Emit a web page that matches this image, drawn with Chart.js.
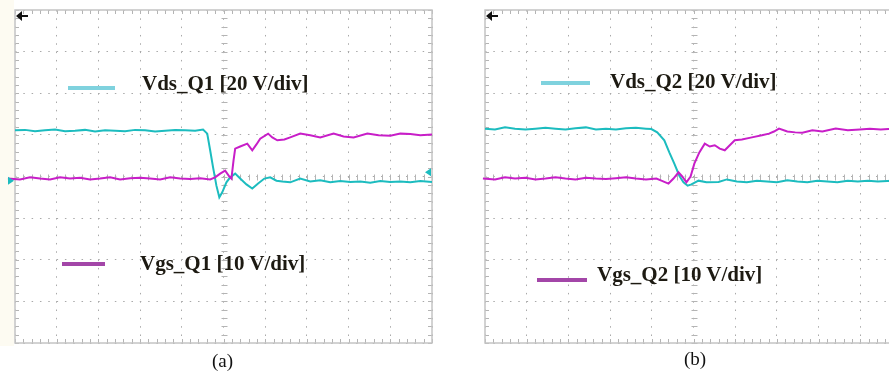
<!DOCTYPE html>
<html>
<head>
<meta charset="utf-8">
<title>Vds / Vgs switching waveforms</title>
<script src="https://cdn.jsdelivr.net/npm/chart.js@4.4.1/dist/chart.umd.min.js"></script>
<style>
  html, body { margin: 0; padding: 0; background: #fff; }
  body { width: 889px; height: 375px; overflow: hidden; position: relative;
         font-family: "Liberation Serif", "Times New Roman", serif; }
  canvas { position: absolute; top: 0; }
  #chart-a { left: 0; }
  #chart-b { left: 470px; }
  .strip { position: absolute; left: 0; top: 0; width: 14px; height: 346px; background: #fdfbf2; }
  .label { position: absolute; font-weight: bold; font-size: 21px; line-height: 21px;
           color: #1d1a12; white-space: nowrap; }
  .swatch { position: absolute; height: 4px; }
  .caption { position: absolute; font-size: 19px; line-height: 19px; color: #111; }
</style>
</head>
<body>
<div class="strip"></div>
<canvas id="chart-a" width="445" height="352"></canvas>
<canvas id="chart-b" width="450" height="352"></canvas>

<div class="swatch" style="left:68px;top:86px;width:47px;background:#7fd2de;"></div>
<div class="label" style="left:142px;top:73px;">Vds_Q1 [20 V/div]</div>
<div class="swatch" style="left:62px;top:262px;width:43px;background:#a346a8;"></div>
<div class="label" style="left:140px;top:253px;">Vgs_Q1 [10 V/div]</div>
<div class="caption" style="left:212px;top:351px;">(a)</div>

<div class="swatch" style="left:541px;top:81px;width:49px;background:#7fd2de;"></div>
<div class="label" style="left:610px;top:71px;">Vds_Q2 [20 V/div]</div>
<div class="swatch" style="left:537px;top:278px;width:50px;background:#a346a8;"></div>
<div class="label" style="left:597px;top:264px;">Vgs_Q2 [10 V/div]</div>
<div class="caption" style="left:684px;top:349px;">(b)</div>

<script>
// all values in screen divisions (time: 10 div across, voltage: 8 div, 0 = centre line)

// (a) Q1
const timeVdsQ1 = [0, 0.24, 0.48, 0.72, 0.96, 1.2, 1.44, 1.68, 1.92, 2.16, 2.4, 2.64, 2.88, 3.12, 3.36,
  3.6, 3.84, 4.08, 4.32, 4.51, 4.61, 4.68, 4.75, 4.83, 4.9, 4.97, 5.07, 5.16, 5.28, 5.4, 5.55, 5.69,
  5.83, 5.98, 6.12, 6.27, 6.41, 6.6, 6.84, 7.08, 7.32, 7.56, 7.8, 8.04, 8.28, 8.52, 8.76, 9.0, 9.24,
  9.48, 9.72, 10];
const vdsQ1 = [1.11, 1.12, 1.09, 1.11, 1.13, 1.09, 1.10, 1.12, 1.08, 1.11, 1.10, 1.09, 1.12, 1.11, 1.08,
  1.10, 1.12, 1.11, 1.10, 1.13, 1.03, 0.63, 0.22, -0.22, -0.50, -0.38, -0.14, -0.02, 0.07, -0.05, -0.19, -0.29,
  -0.17, -0.05, -0.02, -0.10, -0.12, -0.14, -0.05, -0.12, -0.09, -0.14, -0.11, -0.13, -0.12, -0.15, -0.11, -0.13, -0.12,
  -0.14, -0.11, -0.13];

const timeVgsQ1 = [-0.17, 0.12, 0.36, 0.6, 0.84, 1.08, 1.32, 1.56, 1.8, 2.04, 2.28, 2.52, 2.76, 3.0, 3.24,
  3.48, 3.72, 3.96, 4.2, 4.44, 4.68, 4.8, 4.92, 5.04, 5.14, 5.19, 5.24, 5.28, 5.4, 5.57, 5.69, 5.79,
  5.88, 6.07, 6.17, 6.29, 6.46, 6.6, 6.84, 7.08, 7.32, 7.64, 7.88, 8.12, 8.45, 8.72, 9.0, 9.24, 9.48,
  9.72, 10];
const vgsQ1 = [-0.05, -0.07, -0.02, -0.05, -0.07, -0.02, -0.05, -0.03, -0.07, -0.05, -0.02, -0.07, -0.04, -0.03, -0.05,
  -0.07, -0.02, -0.05, -0.06, -0.04, -0.07, -0.02, 0.07, 0.14, 0.0, -0.05, 0.38, 0.67, 0.72, 0.79, 0.63, 0.77,
  0.91, 1.03, 0.94, 0.87, 0.89, 0.94, 1.03, 0.99, 0.94, 1.03, 0.96, 0.94, 1.03, 0.99, 0.98, 1.03, 1.02,
  0.99, 1.01];

// (b) Q2
const timeVdsQ2 = [0, 0.24, 0.48, 0.72, 0.97, 1.21, 1.45, 1.69, 1.93, 2.17, 2.42, 2.66, 2.9, 3.14, 3.38,
  3.62, 3.86, 3.99, 4.13, 4.3, 4.42, 4.54, 4.66, 4.76, 4.86, 4.95, 5.12, 5.31, 5.6, 5.8, 6.04, 6.28,
  6.52, 6.76, 7.0, 7.25, 7.49, 7.73, 7.97, 8.21, 8.45, 8.7, 8.94, 9.18, 9.42, 9.76, 10];
const vdsQ2 = [1.15, 1.13, 1.18, 1.15, 1.13, 1.15, 1.17, 1.15, 1.13, 1.16, 1.18, 1.13, 1.15, 1.13, 1.16,
  1.17, 1.15, 1.14, 1.06, 0.87, 0.58, 0.31, 0.02, -0.14, -0.22, -0.19, -0.10, -0.14, -0.13, -0.07, -0.12, -0.14,
  -0.10, -0.12, -0.14, -0.09, -0.12, -0.14, -0.10, -0.12, -0.14, -0.10, -0.12, -0.10, -0.12, -0.10, -0.11];

const timeVgsQ2 = [-0.05, 0.24, 0.48, 0.72, 0.97, 1.21, 1.45, 1.69, 1.93, 2.17, 2.42, 2.66, 2.9, 3.14, 3.38,
  3.62, 3.86, 4.11, 4.23, 4.4, 4.52, 4.64, 4.73, 4.83, 4.93, 5.02, 5.14, 5.27, 5.39, 5.51, 5.63, 5.75,
  5.87, 5.99, 6.16, 6.4, 6.64, 6.81, 6.93, 7.05, 7.25, 7.44, 7.61, 7.85, 8.09, 8.41, 8.7, 8.99, 9.23,
  9.49, 9.76, 10];
const vgsQ2 = [-0.05, -0.07, -0.02, -0.05, -0.03, -0.07, -0.05, -0.02, -0.05, -0.07, -0.03, -0.05, -0.06, -0.04, -0.02,
  -0.05, -0.07, -0.05, -0.10, -0.17, -0.05, 0.10, 0.0, -0.14, 0.0, 0.31, 0.58, 0.79, 0.72, 0.75, 0.67, 0.63,
  0.75, 0.87, 0.89, 0.94, 0.99, 1.03, 1.08, 1.15, 1.08, 1.06, 1.05, 1.11, 1.08, 1.15, 1.11, 1.13, 1.15,
  1.13, 1.15, 1.14];

const CYAN = '#1cbcbf';
const MAGENTA = '#c81ec8';

function toPoints(times, values) {
    return times.map((t, i) => ({ x: t, y: values[i] }));
}

// frame, minor ticks and centre cross of the scope graticule
const scopeGraticule = {
    id: 'scopeGraticule',
    beforeDatasetsDraw(chart) {
        const ctx = chart.ctx;
        const a = chart.chartArea;
        const x = chart.scales.x;
        const y = chart.scales.y;
        const cx = Math.round(x.getPixelForValue(5)) + 0.5;
        const cy = Math.round(y.getPixelForValue(0)) + 0.5;
        ctx.save();
        ctx.strokeStyle = '#b4b4b4';
        ctx.lineWidth = 1;
        ctx.beginPath();
        for (let i = 0; i <= 50; i++) {
            const px = Math.round(x.getPixelForValue(i * 0.2)) + 0.5;
            ctx.moveTo(px, a.top); ctx.lineTo(px, a.top + 4);
            ctx.moveTo(px, a.bottom); ctx.lineTo(px, a.bottom - 4);
            ctx.moveTo(px, cy - 3); ctx.lineTo(px, cy + 3);
        }
        for (let i = 0; i <= 40; i++) {
            const py = Math.round(y.getPixelForValue(-4 + i * 0.2)) + 0.5;
            ctx.moveTo(a.left, py); ctx.lineTo(a.left + 4, py);
            ctx.moveTo(a.right, py); ctx.lineTo(a.right - 4, py);
            ctx.moveTo(cx - 3, py); ctx.lineTo(cx + 3, py);
        }
        ctx.stroke();
        ctx.strokeStyle = '#c4c4c4';
        ctx.lineWidth = 1.5;
        ctx.strokeRect(a.left, a.top, a.right - a.left, a.bottom - a.top);
        ctx.restore();
    },
    afterDatasetsDraw(chart, args, opts) {
        const ctx = chart.ctx;
        const a = chart.chartArea;
        const y = chart.scales.y;
        ctx.save();
        // trigger arrow, top left
        ctx.fillStyle = '#111';
        ctx.beginPath();
        ctx.moveTo(a.left + 1, a.top + 6);
        ctx.lineTo(a.left + 7, a.top + 1);
        ctx.lineTo(a.left + 7, a.top + 11);
        ctx.closePath();
        ctx.fill();
        ctx.fillRect(a.left + 6, a.top + 5, 7, 2);
        if (opts.markers) {
            // channel ground markers
            const gy = y.getPixelForValue(-0.1);
            ctx.fillStyle = CYAN;
            ctx.beginPath();
            ctx.moveTo(a.left - 7, gy - 4);
            ctx.lineTo(a.left - 1, gy);
            ctx.lineTo(a.left - 7, gy + 4);
            ctx.closePath();
            ctx.fill();
            const ry = y.getPixelForValue(0.1);
            ctx.beginPath();
            ctx.moveTo(a.right - 7, ry);
            ctx.lineTo(a.right - 1, ry - 4);
            ctx.lineTo(a.right - 1, ry + 4);
            ctx.closePath();
            ctx.fill();
        }
        ctx.restore();
    }
};

function makeScope(canvasId, vds, vgs, padRight, markers) {
    return new Chart(document.getElementById(canvasId), {
        type: 'line',
        data: {
            datasets: [
                { data: vgs, borderColor: MAGENTA, borderWidth: 2, clip: { left: 8, top: 0, right: 0, bottom: 0 } },
                { data: vds, borderColor: CYAN, borderWidth: 2 }
            ]
        },
        options: {
            responsive: false,
            animation: false,
            devicePixelRatio: 1,
            layout: { padding: { left: 15, top: 10, right: padRight, bottom: 9 } },
            elements: { point: { radius: 0 }, line: { tension: 0 } },
            plugins: { legend: { display: false }, tooltip: { enabled: false }, scopeGraticule: { markers: markers } },
            scales: {
                x: {
                    type: 'linear', min: 0, max: 10,
                    ticks: { display: false, stepSize: 1 },
                    grid: { color: '#a9a9a9', lineWidth: 1, drawTicks: false },
                    border: { display: false, dash: [1.5, 6.82] }
                },
                y: {
                    type: 'linear', min: -4, max: 4,
                    ticks: { display: false, stepSize: 1 },
                    grid: { color: '#a9a9a9', lineWidth: 1, drawTicks: false },
                    border: { display: false, dash: [1.5, 6.82] }
                }
            }
        },
        plugins: [scopeGraticule]
    });
}

const chartA = makeScope('chart-a', toPoints(timeVdsQ1, vdsQ1), toPoints(timeVgsQ1, vgsQ1), 13, true);
const chartB = makeScope('chart-b', toPoints(timeVdsQ2, vdsQ2), toPoints(timeVgsQ2, vgsQ2), 18, false);
</script>
</body>
</html>
